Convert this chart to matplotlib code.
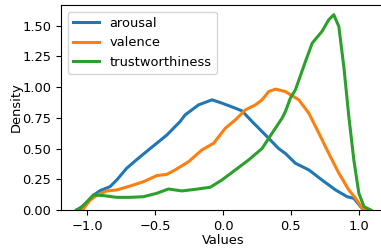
import matplotlib
matplotlib.use("Agg")
import matplotlib.pyplot as plt

# density curves
arousal_x = [-1.08, -1.007, -0.956, -0.907, -0.833, -0.784, -0.71, -0.636, -0.537, -0.414,
             -0.316, -0.279, -0.18, -0.081, -0.008, 0.091, 0.14, 0.214, 0.313, 0.41,
             0.46, 0.534, 0.633, 0.73, 0.83, 0.916, 0.965, 1.015, 1.04]
arousal_y = [0.0, 0.05, 0.12, 0.157, 0.19, 0.244, 0.34, 0.41, 0.50, 0.61,
             0.72, 0.774, 0.855, 0.896, 0.869, 0.828, 0.806, 0.72, 0.61, 0.50,
             0.46, 0.38, 0.326, 0.244, 0.163, 0.108, 0.095, 0.027, 0.0]

valence_x = [-1.05, -1.03, -0.98, -0.93, -0.857, -0.784, -0.685, -0.587, -0.488, -0.414,
             -0.353, -0.254, -0.155, -0.069, 0.017, 0.091, 0.165, 0.239, 0.288, 0.337,
             0.387, 0.46, 0.559, 0.633, 0.707, 0.78, 0.854, 0.928, 0.978, 1.027, 1.05]
valence_y = [0.0, 0.01, 0.08, 0.12, 0.155, 0.163, 0.195, 0.23, 0.28, 0.29,
             0.326, 0.393, 0.489, 0.543, 0.665, 0.733, 0.814, 0.855, 0.896, 0.963,
             0.983, 0.963, 0.896, 0.787, 0.625, 0.46, 0.30, 0.163, 0.095, 0.014, 0.0]

trust_x = [-1.08, -1.055, -0.993, -0.956, -0.882, -0.784, -0.685, -0.587, -0.488, -0.402,
           -0.353, -0.303, -0.205, -0.094, -0.008, 0.091, 0.189, 0.288, 0.362, 0.436,
           0.46, 0.497, 0.534, 0.608, 0.658, 0.73, 0.78, 0.817, 0.854, 0.891,
           0.928, 0.965, 1.002, 1.04, 1.09]
trust_y = [0.0, 0.01, 0.08, 0.122, 0.117, 0.103, 0.103, 0.108, 0.136, 0.171,
           0.163, 0.155, 0.168, 0.185, 0.244, 0.326, 0.407, 0.50, 0.625, 0.747,
           0.80, 0.91, 0.977, 1.208, 1.357, 1.452, 1.547, 1.588, 1.493, 1.167,
           0.76, 0.407, 0.136, 0.027, 0.0]

fig = plt.figure(figsize=(3.81, 2.48), dpi=100)
ax = fig.add_axes([61 / 381, 1 - 210 / 248, 324.7 / 381, 205 / 248])

lw = 2.2
ax.plot(arousal_x, arousal_y, color="tab:blue", lw=lw, label="arousal")
ax.plot(valence_x, valence_y, color="tab:orange", lw=lw, label="valence")
ax.plot(trust_x, trust_y, color="tab:green", lw=lw, label="trustworthiness")

fs = 9.4
ax.set_xlim(-1.195, 1.2)
ax.set_ylim(0, 1.667)
ax.set_xticks([-1.0, -0.5, 0.0, 0.5, 1.0])
ax.set_yticks([0, 0.25, 0.5, 0.75, 1.0, 1.25, 1.5])
ax.set_yticklabels(["0.00", "0.25", "0.50", "0.75", "1.00", "1.25", "1.50"])
ax.tick_params(labelsize=fs)
ax.set_xlabel("Values", fontsize=fs, labelpad=1)
ax.set_ylabel("Density", fontsize=fs, labelpad=0)

ax.legend(loc="upper left", fontsize=fs)

fig.savefig("out.png", dpi=100)
